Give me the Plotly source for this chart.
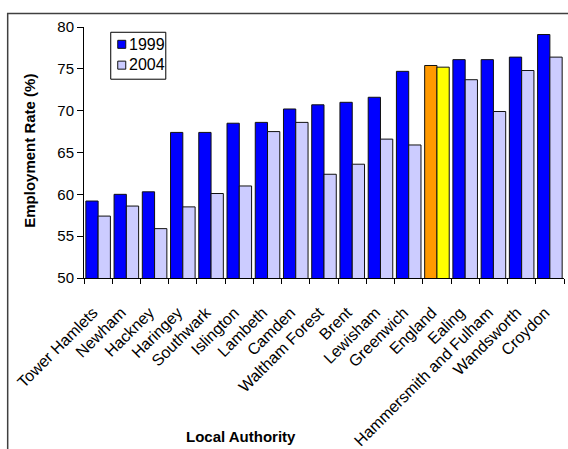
import plotly.graph_objects as go

# Local authorities, ordered by 1999 employment rate
authorities = [
    "Tower Hamlets", "Newham", "Hackney", "Haringey", "Southwark", "Islington",
    "Lambeth", "Camden", "Waltham Forest", "Brent", "Lewisham", "Greenwich",
    "England", "Ealing", "Hammersmith and Fulham", "Wandsworth", "Croydon",
]
rate_1999 = [59.2, 60.0, 60.3, 67.4, 67.4, 68.5, 68.6, 70.2, 70.7, 71.0,
             71.6, 74.7, 75.4, 76.1, 76.1, 76.4, 79.1]
rate_2004 = [57.4, 58.6, 55.9, 58.5, 60.1, 61.0, 67.5, 68.6, 62.4, 63.6,
             66.6, 65.9, 75.2, 73.7, 69.9, 74.8, 76.4]
y_ticks = [50, 55, 60, 65, 70, 75, 80]
series_names = ["1999", "2004"]

BLUE, LILAC = "#0000FF", "#CCCCFF"
ORANGE, YELLOW = "#FF9900", "#FFFF00"
OUTLINE = "#111111"

# England is highlighted as the national benchmark
colors_1999 = [ORANGE if a == "England" else BLUE for a in authorities]
colors_2004 = [YELLOW if a == "England" else LILAC for a in authorities]

FONT = "Liberation Sans, Arial, sans-serif"

fig = go.Figure()
fig.add_trace(go.Bar(
    name=series_names[0], x=authorities, y=rate_1999,
    marker=dict(color=colors_1999, line=dict(color=OUTLINE, width=1)),
))
fig.add_trace(go.Bar(
    name=series_names[1], x=authorities, y=rate_2004,
    marker=dict(color=colors_2004, line=dict(color=OUTLINE, width=1)),
))

# Compact boxed legend in the upper-left corner of the plot area
legend_shapes = [
    dict(type="rect", xref="paper", yref="paper",
         x0=0.0557, x1=0.1704, y0=0.792, y1=0.979,
         fillcolor="white", line=dict(color="black", width=1), layer="above"),
]
legend_texts = []
for name, color, (y_lo, y_hi, y_mid) in zip(
        series_names, [BLUE, LILAC],
        [(0.915, 0.947, 0.931), (0.832, 0.864, 0.850)]):
    legend_shapes.append(dict(
        type="rect", xref="paper", yref="paper",
        x0=0.0703, x1=0.0870, y0=y_lo, y1=y_hi,
        fillcolor=color, line=dict(color=OUTLINE, width=1), layer="above"))
    legend_texts.append(dict(
        text=name, xref="paper", yref="paper", x=0.0905, y=y_mid,
        xanchor="left", yanchor="middle", showarrow=False,
        font=dict(family=FONT, size=16, color="black")))

fig.update_layout(
    width=568, height=449,
    margin=dict(l=84, r=4, t=27, b=171, autoexpand=False),
    paper_bgcolor="white", plot_bgcolor="white",
    barmode="group", bargap=0.13, bargroupgap=0,
    font=dict(family=FONT, size=15, color="black"),
    showlegend=False,
    xaxis=dict(
        showline=True, linecolor="black", linewidth=1,
        ticks="outside", ticklen=5, tickcolor="black", tickson="boundaries",
        tickangle=-45, showgrid=False, automargin=False,
        ticklabelstandoff=18, ticklabelshift=-5,
        tickfont=dict(family=FONT, size=16, color="black"),
    ),
    yaxis=dict(
        range=[50, 80], tickvals=y_ticks,
        showline=True, linecolor="black", linewidth=1,
        ticks="outside", ticklen=6, tickcolor="black", showgrid=False,
        zeroline=False, automargin=False,
        tickfont=dict(family=FONT, size=15, color="black"),
    ),
    annotations=[
        dict(text="<b>Employment Rate (%)</b>", xref="paper", yref="paper",
             x=-0.113, y=0.506, xanchor="center", yanchor="middle",
             textangle=-90, showarrow=False,
             font=dict(family=FONT, size=15, color="black")),
        dict(text="<b>Local Authority</b>", xref="paper", yref="paper",
             x=0.327, y=-0.631, xanchor="center", yanchor="middle",
             showarrow=False,
             font=dict(family=FONT, size=15, color="black")),
    ] + legend_texts,
    shapes=[
        dict(type="rect", xref="paper", yref="paper",
             x0=-0.159, y0=-0.9, x1=1.2, y1=1.054,
             line=dict(color="#404040", width=1.5), layer="below"),
    ] + legend_shapes,
)

fig.write_html("out.html")
